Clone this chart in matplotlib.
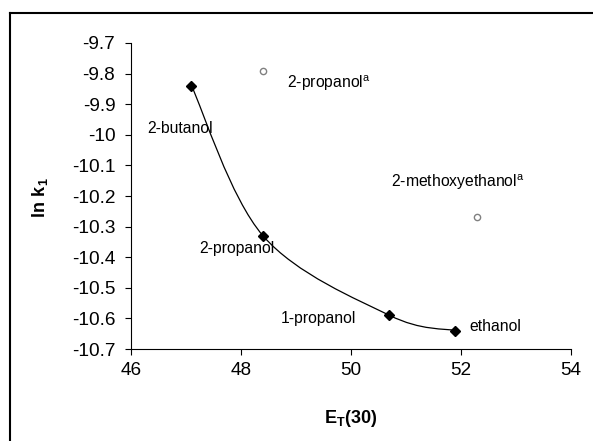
import matplotlib
matplotlib.use("Agg")
import matplotlib.pyplot as plt
from matplotlib.path import Path
from matplotlib.patches import PathPatch
from matplotlib.lines import Line2D

# --- data ---
alc_names = ["2-butanol", "2-propanol", "1-propanol", "ethanol"]
alc_et30 = [47.1, 48.4, 50.7, 51.9]
alc_lnk = [-9.84, -10.33, -10.59, -10.64]

ref_names = [r"2-propanol$^\mathrm{a}$", r"2-methoxyethanol$^\mathrm{a}$"]
ref_et30 = [48.4, 52.3]
ref_lnk = [-9.79, -10.27]

# label anchor points (left edge, vertical centre)
alc_label_x = [46.29, 47.25, 48.73, 52.15]
alc_label_y = [-9.98, -10.37, -10.60, -10.625]
ref_label_x = [48.83, 50.73]
ref_label_y = [-9.83, -10.155]

x_ticks = [46, 48, 50, 52, 54]
y_ticks = [-10.7, -10.6, -10.5, -10.4, -10.3, -10.2, -10.1, -10.0, -9.9, -9.8, -9.7]

plt.rcParams["font.family"] = ["Liberation Sans", "DejaVu Sans"]
plt.rcParams["mathtext.fontset"] = "custom"
plt.rcParams["mathtext.rm"] = "Liberation Sans"
plt.rcParams["mathtext.bf"] = "Liberation Sans:bold"


def smooth_path(xs, ys):
    # Excel-style smoothed line: cubic Bezier segments, Catmull-Rom control points
    pts = list(zip(xs, ys))
    n = len(pts)
    verts = [pts[0]]
    codes = [Path.MOVETO]
    for i in range(n - 1):
        p0 = pts[i - 1] if i > 0 else pts[i]
        p1 = pts[i]
        p2 = pts[i + 1]
        p3 = pts[i + 2] if i + 2 < n else pts[i + 1]
        c1 = (p1[0] + (p2[0] - p0[0]) / 6, p1[1] + (p2[1] - p0[1]) / 6)
        c2 = (p2[0] - (p3[0] - p1[0]) / 6, p2[1] - (p3[1] - p1[1]) / 6)
        verts += [c1, c2, p2]
        codes += [Path.CURVE4] * 3
    return Path(verts, codes)


fig = plt.figure(figsize=(5.93, 4.41), dpi=100)
ax = fig.add_axes([0.2209, 0.2086, 0.742, 0.6939])

ax.add_patch(PathPatch(smooth_path(alc_et30, alc_lnk), facecolor="none",
                       edgecolor="black", linewidth=0.9, zorder=2))
ax.plot(alc_et30, alc_lnk, linestyle="none", marker="D", markersize=5.5,
        color="black", zorder=3)
ax.plot(ref_et30, ref_lnk, linestyle="none", marker="o", markersize=4.5,
        markerfacecolor="white", markeredgecolor="#808080", markeredgewidth=1.0, zorder=3)

for name, x, y in zip(alc_names, alc_label_x, alc_label_y):
    ax.text(x, y, name, fontsize=11.3, ha="left", va="center")
for name, x, y in zip(ref_names, ref_label_x, ref_label_y):
    ax.text(x, y, name, fontsize=11.3, ha="left", va="center")

ax.set_xlim(46, 54)
ax.set_ylim(-10.7, -9.7)
ax.set_xticks(x_ticks)
ax.set_yticks(y_ticks)
ax.set_yticklabels([f"{v:g}" for v in y_ticks])
ax.spines["top"].set_visible(False)
ax.spines["right"].set_visible(False)
ax.tick_params(direction="out", length=4.3, width=0.8, labelsize=13.7)
ax.tick_params(axis="y", pad=7)
ax.tick_params(axis="x", pad=5)

ax.set_xlabel(r"$\mathbf{E}_\mathbf{T}\mathbf{(30)}$", fontsize=13)
ax.set_ylabel(r"$\mathbf{ln\ k}_\mathbf{1}$", fontsize=13)
ax.xaxis.set_label_coords(0.5, -0.194)
ax.yaxis.set_label_coords(-0.184, 0.493)

# outer frame of the original figure (only top and left edges are in view)
fig.add_artist(Line2D([10 / 593, 1.0], [1 - 13 / 441, 1 - 13 / 441],
                      transform=fig.transFigure, color="black", linewidth=1.5))
fig.add_artist(Line2D([10 / 593, 10 / 593], [1 - 13 / 441, 0.0],
                      transform=fig.transFigure, color="black", linewidth=1.5))

fig.savefig("out.png", dpi=100)
